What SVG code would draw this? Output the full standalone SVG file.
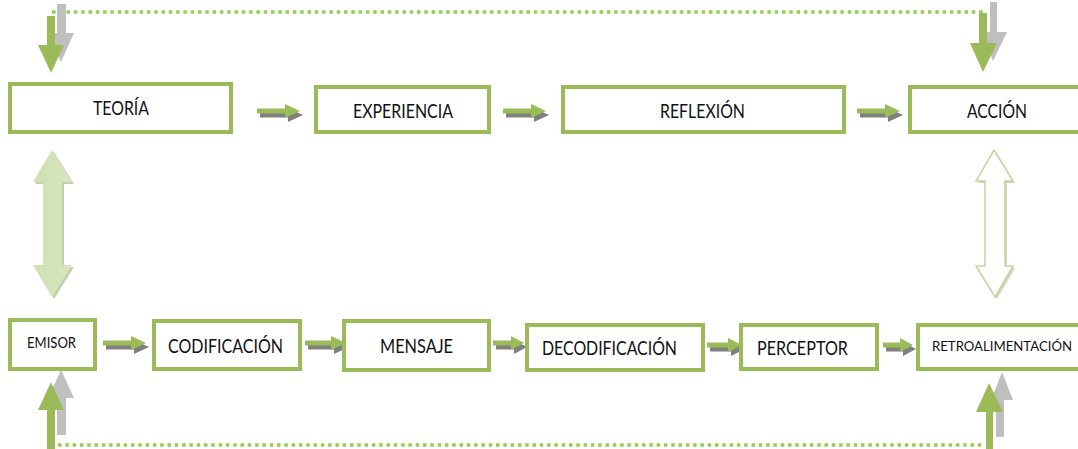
<svg xmlns="http://www.w3.org/2000/svg" width="1078" height="449" viewBox="0 0 1078 449">
<style>
.box{fill:#fff;stroke:#9BBB59;stroke-width:4}
.lbl{font-family:Lato,"Liberation Sans",sans-serif;fill:#111}
.ga{fill:#9BBB59}
.sh{fill:#808080}
.gs{fill:#BFBFBF}
.dot{fill:none;stroke:#92D050;stroke-width:3.5;stroke-dasharray:3.5 3.8}
</style>
<defs>
<linearGradient id="lg" x1="0" y1="0" x2="1" y2="0">
<stop offset="0" stop-color="#CFDFB0"/>
<stop offset="1" stop-color="#D9E6C2"/>
</linearGradient>
</defs>
<g id="connectors">
<path class="dot" d="M52 12 H983"/>
<path class="gs" d="M57 4 H66 V33 H74 L61 62 L48 33 H57 Z"/>
<path class="ga" d="M47 16 H55 V45 H64 L51 73 L38 45 H47 Z"/>
<path class="gs" d="M990 2 H997 V32 H1007 L993 61 L980 32 H990 Z"/>
<path class="ga" d="M979 13 H987 V43 H997 L983 72 L970 43 H979 Z"/>
<path class="dot" d="M58 445 H982"/>
<path class="gs" d="M57 435 H66 V398 H74 L61 370 L48 398 H57 Z"/>
<path class="ga" d="M47 449 H55 V410 H64 L51 382 L38 410 H47 Z"/>
<path class="gs" d="M996 437 H1004 V400 H1013 L1002 372 L991 400 H996 Z"/>
<path class="ga" d="M986 449 H993 V412 H1003 L989 383 L976 412 H986 Z"/>
<path d="M54 152 L74 184 H64 V267 H74 L54 299 L35 267 H45 V184 H35 Z" fill="#A9BC88" opacity="0.7"/>
<path d="M52 150 L72 182 H62 V265 H72 L52 297 L33 265 H43 V182 H33 Z" fill="url(#lg)"/>
<path d="M996 152 L1015 183 H1007 V268 H1015 L997 299 L978 268 H987 V183 H978 Z" fill="#B8C7A0" opacity="0.7"/>
<path d="M994 150 L1013 181 H1005 V266 H1013 L995 297 L976 266 H985 V181 H976 Z" fill="#fff" stroke="#C3D69B" stroke-width="1.5"/>
<g transform="translate(3,4)">
<path class="sh" d="M257 108.5 H285 V104 L300 111 L285 118 V113.5 H257 Z"/>
<path class="sh" d="M503 108.5 H531 V104 L546 111 L531 118 V113.5 H503 Z"/>
<path class="sh" d="M857 108.5 H885 V104 L900 111 L885 118 V113.5 H857 Z"/>
<path class="sh" d="M103 340.5 H131 V336 L146 343 L131 350 V345.5 H103 Z"/>
<path class="sh" d="M305 340.5 H331 V336 L346 343 L331 350 V345.5 H305 Z"/>
<path class="sh" d="M493 340.5 H511 V336 L524 343 L511 350 V345.5 H493 Z"/>
<path class="sh" d="M707 342.5 H728 V338 L742 345 L728 352 V347.5 H707 Z"/>
<path class="sh" d="M883 342.5 H900 V338 L913 345 L900 352 V347.5 H883 Z"/>
</g>
<path class="ga" d="M257 108.5 H285 V104 L300 111 L285 118 V113.5 H257 Z"/>
<path class="ga" d="M503 108.5 H531 V104 L546 111 L531 118 V113.5 H503 Z"/>
<path class="ga" d="M857 108.5 H885 V104 L900 111 L885 118 V113.5 H857 Z"/>
<path class="ga" d="M103 340.5 H131 V336 L146 343 L131 350 V345.5 H103 Z"/>
<path class="ga" d="M305 340.5 H331 V336 L346 343 L331 350 V345.5 H305 Z"/>
<path class="ga" d="M493 340.5 H511 V336 L524 343 L511 350 V345.5 H493 Z"/>
<path class="ga" d="M707 342.5 H728 V338 L742 345 L728 352 V347.5 H707 Z"/>
<path class="ga" d="M883 342.5 H900 V338 L913 345 L900 352 V347.5 H883 Z"/>
</g>
<g id="teoria"><rect class="box" x="10" y="84" width="221" height="48"/><text class="lbl" x="93" y="115" font-size="18.5" textLength="56" lengthAdjust="spacingAndGlyphs">TEORÍA</text></g>
<g id="experiencia"><rect class="box" x="316" y="87" width="173" height="45"/><text class="lbl" x="353" y="118" font-size="18.5" textLength="100" lengthAdjust="spacingAndGlyphs">EXPERIENCIA</text></g>
<g id="reflexion"><rect class="box" x="563" y="87" width="281" height="45"/><text class="lbl" x="660" y="118" font-size="18.5" textLength="85" lengthAdjust="spacingAndGlyphs">REFLEXIÓN</text></g>
<g id="accion"><rect class="box" x="910" y="87" width="190" height="45"/><text class="lbl" x="967" y="118" font-size="18.5" textLength="60" lengthAdjust="spacingAndGlyphs">ACCIÓN</text></g>
<g id="emisor"><rect class="box" x="10" y="320" width="85" height="49"/><text class="lbl" x="27" y="348" font-size="15.5" textLength="49" lengthAdjust="spacingAndGlyphs">EMISOR</text></g>
<g id="codificacion"><rect class="box" x="154" y="321" width="146" height="48"/><text class="lbl" x="168" y="353" font-size="20" textLength="115" lengthAdjust="spacingAndGlyphs">CODIFICACIÓN</text></g>
<g id="mensaje"><rect class="box" x="344" y="321" width="145" height="49"/><text class="lbl" x="380" y="353" font-size="20" textLength="73" lengthAdjust="spacingAndGlyphs">MENSAJE</text></g>
<g id="decodificacion"><rect class="box" x="527" y="325" width="176" height="45"/><text class="lbl" x="542" y="355" font-size="18.5" textLength="135" lengthAdjust="spacingAndGlyphs">DECODIFICACIÓN</text></g>
<g id="perceptor"><rect class="box" x="741" y="325" width="136" height="44"/><text class="lbl" x="757" y="355" font-size="18.5" textLength="91" lengthAdjust="spacingAndGlyphs">PERCEPTOR</text></g>
<g id="retroalimentacion"><rect class="box" x="918" y="325" width="190" height="44"/><text class="lbl" x="932" y="351" font-size="14" textLength="140" lengthAdjust="spacingAndGlyphs">RETROALIMENTACIÓN</text></g>
</svg>
